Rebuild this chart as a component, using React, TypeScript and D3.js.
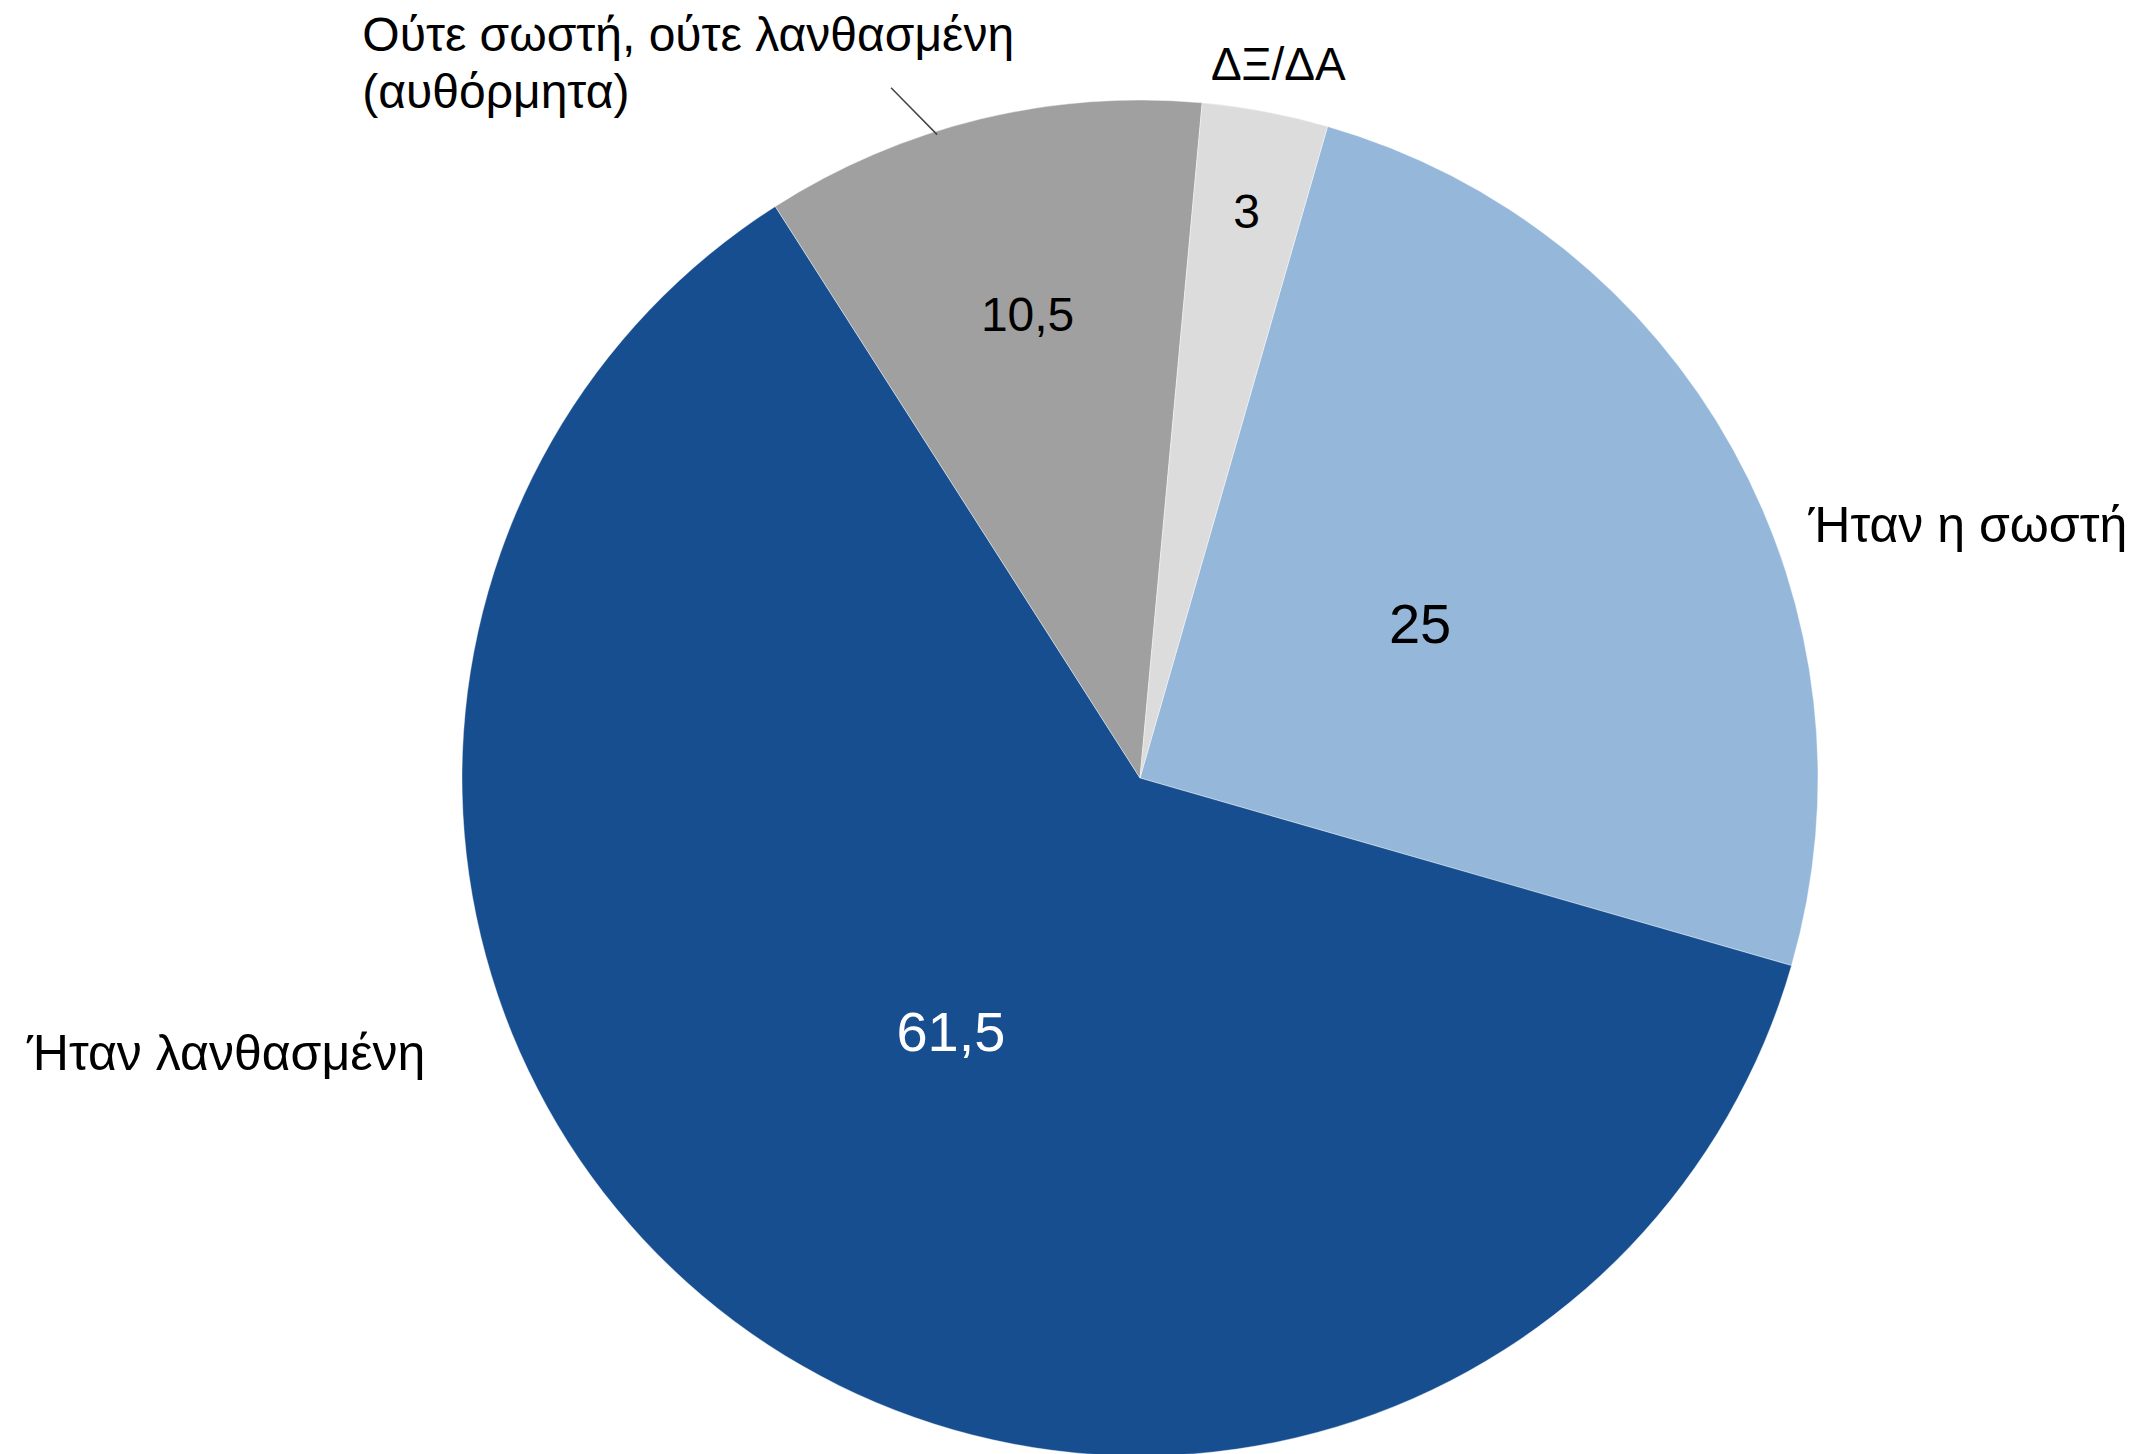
import React from "react";
import * as d3 from "d3";

const categories = [
  "Ήταν η σωστή",
  "Ήταν λανθασμένη",
  "Ούτε σωστή, ούτε λανθασμένη (αυθόρμητα)",
  "ΔΞ/ΔΑ",
];
const values = [25, 61.5, 10.5, 3];
const valueLabels = ["25", "61,5", "10,5", "3"];
const colors = ["#95B8DA", "#174E8F", "#A0A0A0", "#DCDCDC"];
const valueTextColors = ["#000", "#fff", "#000", "#000"];

const W = 2149;
const H = 1454;

export default function App() {
  const cx = 1140;
  const cy = 778;
  const R = 678;
  const startDeg = 16.06;

  const pie = d3
    .pie<number>()
    .sort(null)
    .value((d) => d)
    .startAngle((startDeg * Math.PI) / 180)
    .endAngle((startDeg * Math.PI) / 180 + 2 * Math.PI);
  const arcs = pie(values);
  const arcGen = d3.arc<d3.PieArcDatum<number>>().innerRadius(0).outerRadius(R);

  // radius fractions for value labels (as laid out in the original)
  const valueRadius = [0.472, 0.466, 0.703, 0.85];
  const valueSize = [56, 56, 48, 48];

  const polar = (ang: number, r: number) => [cx + r * Math.sin(ang), cy - r * Math.cos(ang)];

  const font = "'Liberation Sans', Arial, Helvetica, sans-serif";

  // leader line for the 3rd slice
  const leaderAng = (342.5 * Math.PI) / 180;
  const [lx2, ly2] = polar(leaderAng, R * 0.995);
  const lx1 = lx2 - R * 0.068;
  const ly1 = ly2 - R * 0.069;

  return (
    <svg
      width={W}
      height={H}
      style={{ position: "absolute", left: 0, top: 0, background: "#fff" }}
      fontFamily={font}
    >
      <g>
        {arcs.map((a, i) => (
          <path key={i} d={arcGen(a) || ""} transform={`translate(${cx},${cy})`} fill={colors[i]} stroke="#fff" strokeWidth={1} strokeOpacity={0.4} />
        ))}
      </g>
      <g>
        {arcs.map((a, i) => {
          const mid = (a.startAngle + a.endAngle) / 2;
          const [x, y] = polar(mid, R * valueRadius[i]);
          return (
            <text
              key={i}
              x={x}
              y={y}
              textAnchor="middle"
              dominantBaseline="central"
              fontSize={valueSize[i]}
              fill={valueTextColors[i]}
            >
              {valueLabels[i]}
            </text>
          );
        })}
      </g>
      <line x1={lx1} y1={ly1} x2={lx2} y2={ly2} stroke="#444" strokeWidth={1.5} />
      <g fill="#000">
        <text x={cx + R * 0.986} y={cy - R * 0.348} fontSize={50} textAnchor="start">
          {categories[0]}
        </text>
        <text x={cx - R * 1.054} y={cy + R * 0.43} fontSize={50} textAnchor="end">
          {categories[1]}
        </text>
        <text x={cx - R * 1.147} y={cy - R * 1.072} fontSize={48} textAnchor="start">
          <tspan>Ούτε σωστή, ούτε λανθασμένη</tspan>
          <tspan x={cx - R * 1.147} dy={57}>
            (αυθόρμητα)
          </tspan>
        </text>
        <text x={cx + R * 0.204} y={cy - R * 1.029} fontSize={46} textAnchor="middle">
          {categories[3]}
        </text>
      </g>
    </svg>
  );
}
